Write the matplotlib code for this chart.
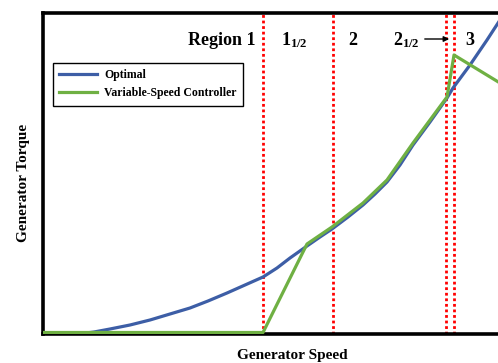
import matplotlib
matplotlib.use("Agg")
import matplotlib.pyplot as plt

plt.rcParams["font.family"] = ["Liberation Serif", "DejaVu Serif"]
plt.rcParams["font.weight"] = "bold"
plt.rcParams["mathtext.fontset"] = "custom"
plt.rcParams["mathtext.rm"] = "Liberation Serif:bold"
plt.rcParams["mathtext.it"] = "Liberation Serif:bold"

# generator speed / torque, arbitrary units
speed_opt = [78, 94, 110, 130, 150, 170, 190, 208, 227, 245, 263, 277, 290, 307,
             320, 332, 348, 363, 375, 387, 400, 413, 430, 447, 453, 470, 487, 500, 505]
torque_opt = [0, 2, 5, 9, 14, 20, 26, 33, 41, 49, 57, 66, 76, 88,
              97, 105, 117, 129, 140, 152, 169, 189, 212, 236, 246, 269, 294, 314, 322]

speed_ctrl = [43, 263, 307, 332, 363, 387, 413, 447, 454, 500]
torque_ctrl = [1.5, 1.5, 90, 107, 131, 154, 191, 237, 279, 251]

region_bounds = [263, 333, 446, 454]
region_labels = ["Region 1", r"$\mathrm{1}_{\mathrm{1/2}}$", "2", r"$\mathrm{2}_{\mathrm{1/2}}$", "3"]
region_label_x = [222, 294, 353, 406, 470]

W, H = 498, 363
fig = plt.figure(figsize=(W / 100, H / 100), dpi=100)
ax = fig.add_axes([43 / W, 29 / H, (560 - 43) / W, 321 / H])
ax.set_xlim(43, 560)
ax.set_ylim(0, 321)

for x in region_bounds:
    ax.axvline(x, color="red", linestyle=(0, (1, 1)), linewidth=2, zorder=1)

ax.plot(speed_opt, torque_opt, color="#3d5ea6", linewidth=2.3, label="Optimal",
        zorder=3, solid_joinstyle="round")
ax.plot(speed_ctrl, torque_ctrl, color="#6fb043", linewidth=2.3,
        label="Variable-Speed Controller", zorder=4)

for lab, x in zip(region_labels, region_label_x):
    ax.text(x, 289, lab, ha="center", va="baseline", fontsize=13, fontweight="bold")

ax.annotate("", xy=(452, 295), xytext=(422, 295),
            arrowprops=dict(arrowstyle="-|>", color="black", lw=1, mutation_scale=8))

for side in ["left", "top", "bottom"]:
    ax.spines[side].set_linewidth(2.6)
    ax.spines[side].set_color("black")
ax.spines["right"].set_visible(False)

ax.set_xticks([110, 176, 308, 373])
ax.set_yticks([106])
ax.tick_params(direction="inout", length=4, width=1, color="white",
               top=True, labelbottom=False, labelleft=False)

leg = ax.legend(loc="upper left", bbox_to_anchor=(53 / W, 1 - 63 / H),
                bbox_transform=fig.transFigure, borderaxespad=0, fancybox=False,
                edgecolor="black", framealpha=1, prop={"size": 8.5, "weight": "bold"},
                handlelength=3.2, handletextpad=0.6, labelspacing=0.5, borderpad=0.55)
leg.get_frame().set_linewidth(1)

fig.text(292 / W, 1 - 355 / H, "Generator Speed", ha="center", va="center",
         fontsize=11, fontweight="bold")
fig.text(24 / W, 1 - 183 / H, "Generator Torque", ha="center", va="center",
         rotation=90, fontsize=11, fontweight="bold")

fig.savefig("out.png", dpi=100)
